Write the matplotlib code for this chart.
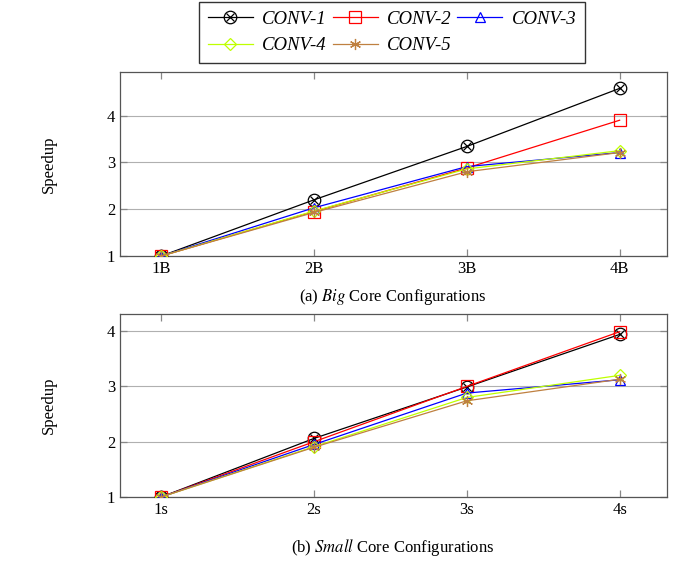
import matplotlib
matplotlib.use("Agg")
import matplotlib.pyplot as plt
from matplotlib.lines import Line2D

plt.rcParams['font.family'] = ['Liberation Serif', 'DejaVu Serif']
plt.rcParams['mathtext.fontset'] = 'stix'

series = ["CONV-1", "CONV-2", "CONV-3", "CONV-4", "CONV-5"]
big_labels = ["1B", "2B", "3B", "4B"]
small_labels = ["1s", "2s", "3s", "4s"]

big_conv1 = [1.0, 2.2, 3.34, 4.58]
big_conv2 = [1.0, 1.95, 2.88, 3.9]
big_conv3 = [1.0, 2.03, 2.91, 3.21]
big_conv4 = [1.0, 1.96, 2.86, 3.25]
big_conv5 = [1.0, 1.93, 2.8, 3.21]

small_conv1 = [1.0, 2.06, 2.99, 3.94]
small_conv2 = [1.0, 2.0, 3.0, 3.99]
small_conv3 = [1.0, 1.95, 2.88, 3.12]
small_conv4 = [1.0, 1.91, 2.8, 3.2]
small_conv5 = [1.0, 1.9, 2.74, 3.13]

colors = ['black', '#ff0000', '#0000ff', '#bfff00', '#bf8040']
markers = ['o', 's', '^', 'D', (6, 2, 0)]
msizes = [9, 8, 7, 6, 8]
LW = 0.9

fig = plt.figure(figsize=(6.83, 5.61), dpi=100)
W, H = 683, 561
ax1 = fig.add_axes([120 / W, 1 - 256 / H, (667 - 120) / W, (256 - 72) / H])
ax2 = fig.add_axes([120 / W, 1 - 497 / H, (667 - 120) / W, (497 - 314) / H])

big = [big_conv1, big_conv2, big_conv3, big_conv4, big_conv5]
small = [small_conv1, small_conv2, small_conv3, small_conv4, small_conv5]

for ax, data, labels, ylim in [
    (ax1, big, big_labels, (1, 4.93)),
    (ax2, small, small_labels, (1, 4.31)),
]:
    xs = list(range(1, len(labels) + 1))
    for i, ys in enumerate(data):
        ax.plot(xs, ys, color=colors[i], lw=LW, marker=markers[i], ms=msizes[i],
                markeredgecolor=colors[i], markeredgewidth=LW,
                markerfacecolor='none', label=series[i], zorder=3)
        if i == 0:
            ax.plot(xs, ys, ls='none', marker='x', ms=msizes[i] * 0.62,
                    markeredgecolor=colors[i], markeredgewidth=LW, zorder=3)
    ax.set_xlim(0.73, 4.31)
    ax.set_ylim(*ylim)
    ax.set_xticks(xs)
    ax.set_xticklabels(labels)
    ax.set_yticks([1, 2, 3, 4])
    ax.grid(axis='y', color='#b0b0b0', lw=0.8)
    ax.set_axisbelow(True)
    ax.tick_params(direction='in', top=True, right=True, labelsize=12,
                   color='#888888', length=5, width=0.9)
    for s in ax.spines.values():
        s.set_color('#555555')
        s.set_linewidth(0.9)
    ax.set_ylabel('Speedup', fontsize=12, labelpad=36)

fig.text(393 / W, 1 - 297 / H, r'(a) $\it{Big}$ Core Configurations', ha='center', va='center', fontsize=12)
fig.text(393 / W, 1 - 547 / H, r'(b) $\it{Small}$ Core Configurations', ha='center', va='center', fontsize=12)

handles = []
for i in range(5):
    h = Line2D([0], [0], color=colors[i], lw=LW, marker=markers[i], ms=msizes[i],
               markeredgecolor=colors[i], markerfacecolor='none', markeredgewidth=LW)
    if i == 0:
        hx = Line2D([0], [0], ls='none', marker='x', ms=msizes[i] * 0.62,
                    markeredgecolor=colors[i], markeredgewidth=LW)
        h = (h, hx)
    handles.append(h)
order = [0, 3, 1, 4, 2]
leg = fig.legend([handles[k] for k in order], [series[k] for k in order], ncol=3, loc='center',
                 bbox_to_anchor=(392 / W, 1 - 32.5 / H),
                 prop={'family': 'Liberation Serif', 'style': 'italic', 'size': 13.5},
                 frameon=True, fancybox=False, edgecolor='black', handlelength=2.4,
                 columnspacing=0.3, handletextpad=0.5, borderpad=0.45, labelspacing=0.5)
leg.get_frame().set_linewidth(1.0)

fig.savefig('out.png', dpi=100)
